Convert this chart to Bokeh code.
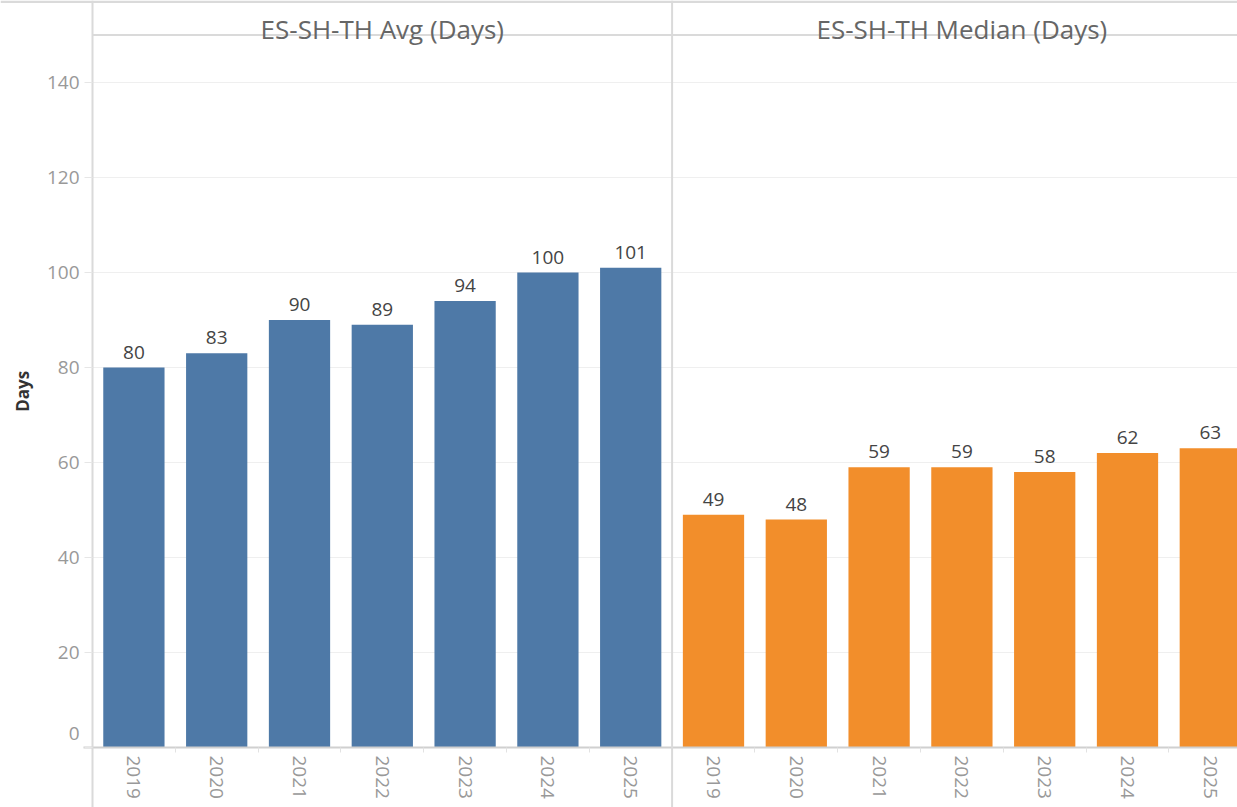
import math
from bokeh.plotting import figure
from bokeh.models import (Range1d, FixedTicker, LinearAxis, Span, Label, LabelSet,
                          ColumnDataSource, BoxAnnotation)
from bokeh.core.properties import value
from bokeh.embed import file_html
from bokeh.resources import INLINE

# ---------------- data ----------------
years = ["2019", "2020", "2021", "2022", "2023", "2024", "2025"]
avg_days = [80, 83, 90, 89, 94, 100, 101]
median_days = [49, 48, 59, 59, 58, 62, 63]
panel_titles = ["ES-SH-TH Avg (Days)", "ES-SH-TH Median (Days)"]
y_ticks = [0, 20, 40, 60, 80, 100, 120, 140]
y_title = "Days"

# ---------------- styling ----------------
BLUE = "#4E79A7"
ORANGE = "#F28E2B"
LINE = "#dadada"
GRID = "#efefef"
TICK_TXT = "#999999"
FONT = "Open Sans"

W, H = 1237, 807
n = len(years)
x_avg = list(range(n))
x_med = [n + i for i in range(n)]

# layout in axis units (one slot per bar)
slot_px = 82.8          # pixels per slot
unit_px = 4.75          # pixels per day
left_px, base_px = 92, 747
x_start = -0.5 - left_px / slot_px
x_end = -0.5 + (W - left_px) / slot_px
y_start = -(H - base_px) / unit_px
y_end = base_px / unit_px
header_y = 150

p = figure(width=W, height=H, x_range=Range1d(x_start, x_end), y_range=Range1d(y_start, y_end),
           output_backend="svg", toolbar_location=None, x_axis_type=None, y_axis_type=None,
           title=None, min_border=0)
p.min_border_left = p.min_border_right = p.min_border_top = p.min_border_bottom = 0
p.outline_line_color = None
p.background_fill_color = "white"
p.border_fill_color = "white"

# gridlines (light) and header line
p.ray(x=-0.5, y=y_ticks[1:], length=0, angle=0, line_color=GRID, line_width=1)
p.ray(x=-0.5, y=header_y, length=0, angle=0, line_color=LINE, line_width=2)

# bars
p.vbar(x=x_avg, top=avg_days, bottom=0, width=0.74, fill_color=BLUE, line_color=None)
p.vbar(x=x_med, top=median_days, bottom=0, width=0.74, fill_color=ORANGE, line_color=None)

# bar value labels
lab_src = ColumnDataSource(dict(x=x_avg + x_med, y=avg_days + median_days,
                                t=[str(v) for v in avg_days + median_days]))
p.add_layout(LabelSet(x="x", y="y", text="t", source=lab_src, y_offset=9,
                      text_align="center", text_baseline="alphabetic",
                      text_font=value(FONT), text_font_size="19px", text_color="#444444"))

# x axis (years)
xaxis = LinearAxis(fixed_location=0,
                   ticker=FixedTicker(ticks=x_avg + x_med,
                                      minor_ticks=[i + 0.5 for i in range(2 * n - 1) if i != n - 1]),
                   major_label_overrides={x: y for x, y in zip(x_avg + x_med, years + years)})
xaxis.bounds = (-0.5 - 9 / slot_px, x_end)
xaxis.axis_line_color = "#d0d0d0"
xaxis.axis_line_width = 2
xaxis.major_tick_out = 0
xaxis.major_tick_in = 0
xaxis.minor_tick_out = 5
xaxis.minor_tick_in = 0
xaxis.minor_tick_line_color = "#e2e2e2"
xaxis.major_label_orientation = "vertical"
xaxis.major_label_standoff = 3
xaxis.major_label_text_font = FONT
xaxis.major_label_text_font_size = "19px"
xaxis.major_label_text_color = TICK_TXT
p.add_layout(xaxis, "below")

# y axis
yaxis = LinearAxis(fixed_location=-0.5, ticker=FixedTicker(ticks=y_ticks),
                   major_label_overrides={0: ""})
yaxis.axis_line_color = LINE
yaxis.axis_line_width = 2
yaxis.major_tick_out = 8
yaxis.major_tick_in = 0
yaxis.major_tick_line_color = "#e6e6e6"
yaxis.minor_tick_out = 0
yaxis.minor_tick_in = 0
yaxis.major_label_standoff = 5
yaxis.major_label_text_font = FONT
yaxis.major_label_text_font_size = "19px"
yaxis.major_label_text_color = TICK_TXT
p.add_layout(yaxis, "left")

# zero label, lifted above the baseline as in the reference
p.add_layout(Label(x=-0.5, y=y_ticks[0], text=str(y_ticks[0]), x_offset=-13, y_offset=14,
                   text_align="right", text_baseline="middle", text_font=FONT,
                   text_font_size="19px", text_color=TICK_TXT))

# y title
p.add_layout(Label(x=-0.5, y=header_y / 2, text=y_title, x_offset=-70, angle=math.pi / 2,
                   text_align="center", text_baseline="middle", text_font=FONT,
                   text_font_size="17px", text_font_style="bold", text_color="#333333"))

# panel separator
p.add_layout(Span(location=n - 0.5, dimension="height", line_color=LINE, line_width=2))

# panel headers
for k, t in enumerate(panel_titles):
    p.add_layout(Label(x=k * n + (n - 1) / 2, y=header_y, text=t, y_offset=6,
                       text_align="center", text_baseline="alphabetic", text_font=FONT,
                       text_font_size="26px", text_color="#666666"))

# top band
p.add_layout(BoxAnnotation(bottom=(base_px - 2.5) / unit_px, fill_color=LINE, fill_alpha=1,
                           line_color=None))

open("out.html", "w").write(file_html(p, INLINE))
